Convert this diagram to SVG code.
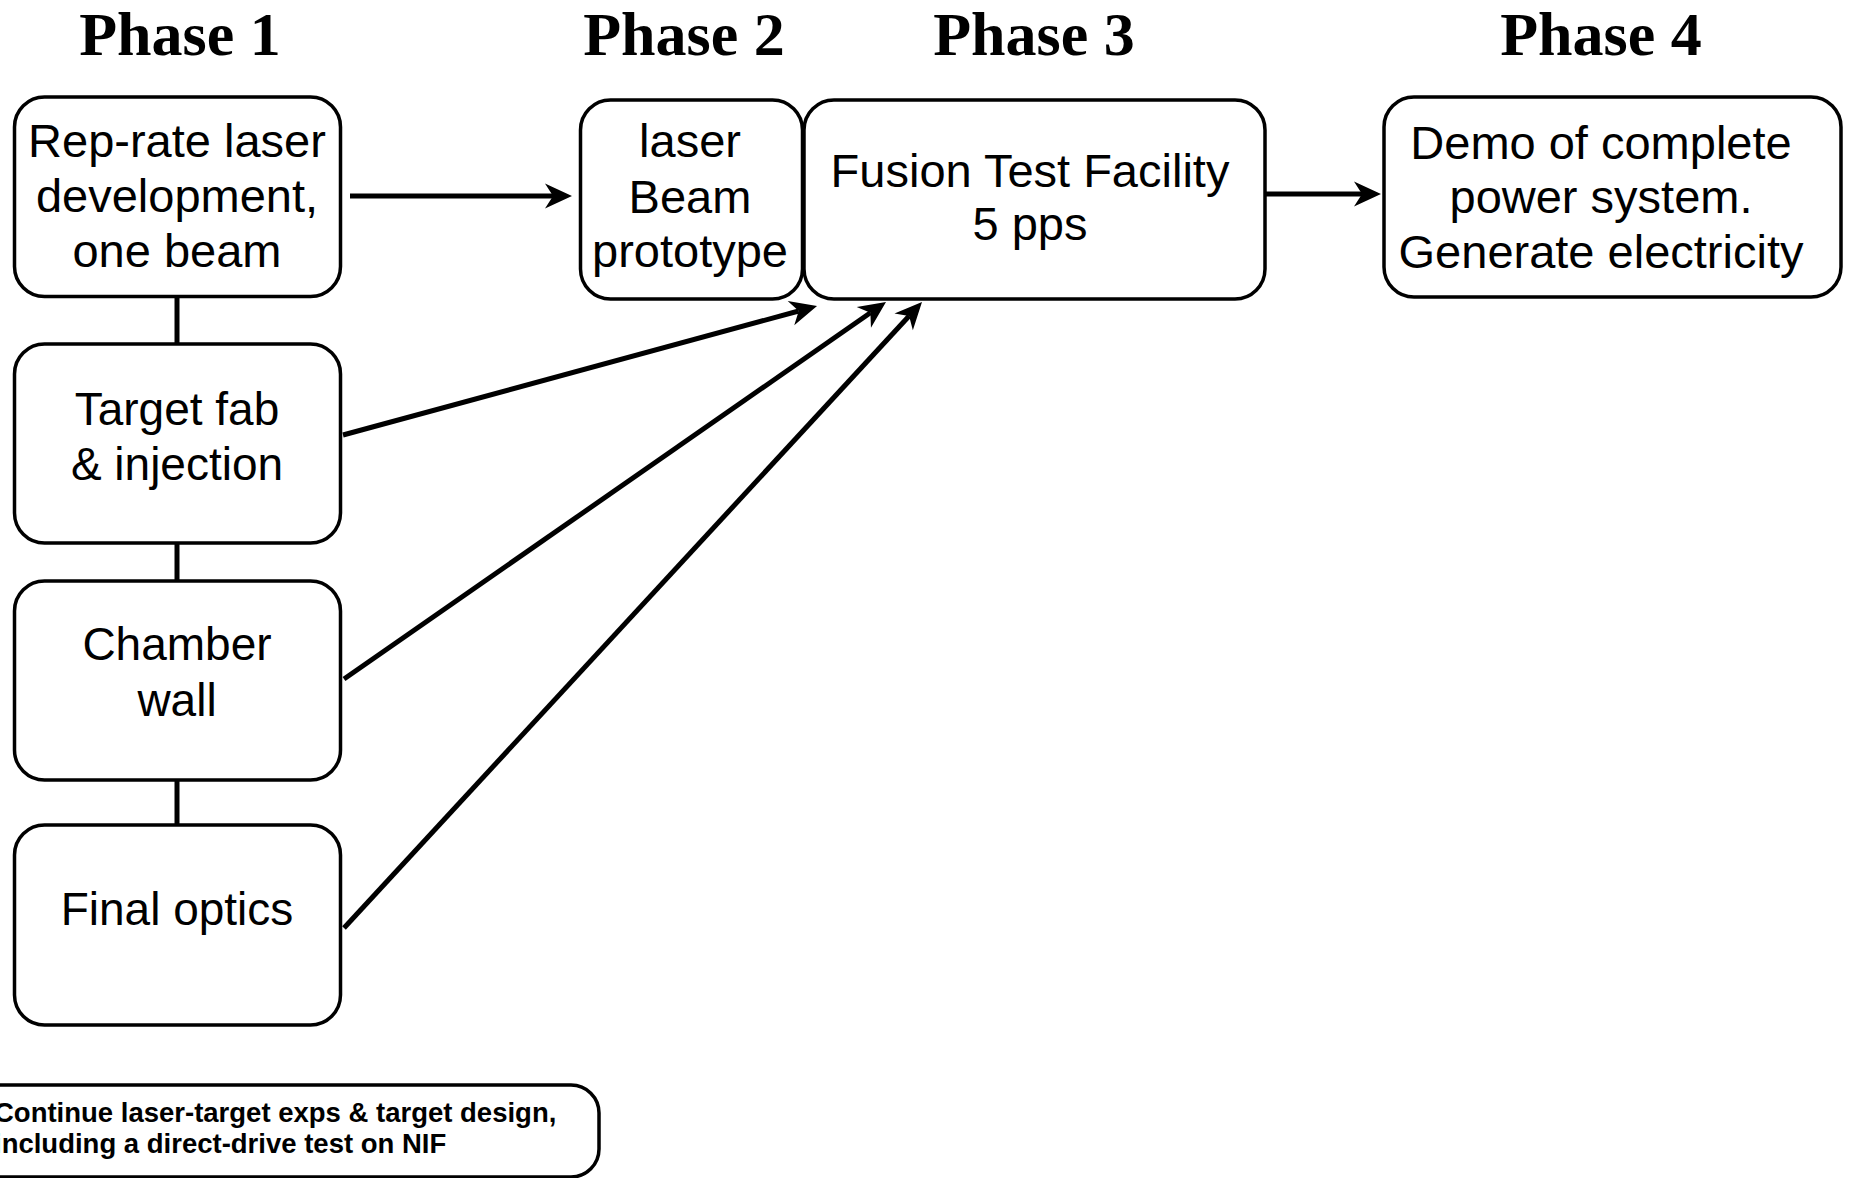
<svg xmlns="http://www.w3.org/2000/svg" width="1850" height="1178" viewBox="0 0 1850 1178">
<style>
.box{fill:#fff;stroke:#000;stroke-width:3.5}
.t{font-family:"Liberation Sans",Arial,sans-serif;font-size:47px;fill:#000;text-anchor:middle}
.tl{font-family:"Liberation Sans",Arial,sans-serif;font-size:46px;fill:#000;text-anchor:middle}
.ph{font-family:"Liberation Serif","Times New Roman",serif;font-weight:bold;font-size:62px;fill:#000;text-anchor:middle}
.note{font-family:"Liberation Sans",Arial,sans-serif;font-weight:bold;font-size:27.5px;fill:#000}
.c{stroke:#000;stroke-width:5;fill:none}
.a{stroke:#000;stroke-width:5;fill:none;marker-end:url(#arr)}
</style>
<defs>
<marker id="arr" markerUnits="userSpaceOnUse" viewBox="-10 -13 30 26" refX="0" refY="0" markerWidth="30" markerHeight="26" orient="auto">
<path d="M19,0 L-8,-12.5 L0,0 L-8,12.5 Z" fill="#000"/>
</marker>
</defs>
<rect width="1850" height="1178" fill="#fff"/>
<g id="titles">
<text class="ph" x="180" y="55">Phase 1</text>
<text class="ph" x="684" y="55">Phase 2</text>
<text class="ph" x="1034" y="55">Phase 3</text>
<text class="ph" x="1601" y="55">Phase 4</text>
</g>
<g id="connectors">
<line class="c" x1="177" y1="296" x2="177" y2="344"/>
<line class="c" x1="177" y1="537" x2="177" y2="581"/>
<line class="c" x1="177" y1="780" x2="177" y2="825"/>
<line class="a" x1="350" y1="196" x2="553" y2="196"/>
<line class="a" x1="1265" y1="194" x2="1362" y2="194"/>
<line class="a" x1="343" y1="435" x2="798.7" y2="311"/>
<line class="a" x1="344" y1="679" x2="870.4" y2="312.8"/>
<line class="a" x1="344" y1="928" x2="909.1" y2="316"/>
</g>
<g id="n-replaser">
<rect class="box" x="14.5" y="97" width="326" height="199.5" rx="30"/>
<text class="t" x="177" y="157">Rep-rate laser</text>
<text class="t" x="177" y="212">development,</text>
<text class="t" x="177" y="267">one beam</text>
</g>
<g id="n-target">
<rect class="box" x="14.5" y="344" width="326" height="199" rx="30"/>
<text class="tl" x="177" y="425">Target fab</text>
<text class="tl" x="177" y="480">&amp; injection</text>
</g>
<g id="n-chamber">
<rect class="box" x="14.5" y="581" width="326" height="199" rx="30"/>
<text class="tl" x="177" y="660">Chamber</text>
<text class="tl" x="177" y="716">wall</text>
</g>
<g id="n-optics">
<rect class="box" x="14.5" y="825" width="326" height="200" rx="30"/>
<text class="tl" x="177" y="925">Final optics</text>
</g>
<g id="n-beam">
<rect class="box" x="580.5" y="100" width="222" height="199" rx="30"/>
<text class="t" x="690" y="157">laser</text>
<text class="t" x="690" y="213">Beam</text>
<text class="t" x="690" y="267">prototype</text>
</g>
<g id="n-fusion">
<rect class="box" x="804" y="100" width="461" height="199" rx="30"/>
<text class="t" x="1030" y="187">Fusion Test Facility</text>
<text class="t" x="1030" y="240">5 pps</text>
</g>
<g id="n-demo">
<rect class="box" x="1384" y="97" width="457" height="200" rx="30"/>
<text class="t" x="1601" y="159">Demo of complete</text>
<text class="t" x="1601" y="213">power system.</text>
<text class="t" x="1601" y="268">Generate electricity</text>
</g>
<g id="n-note">
<rect class="box" x="-40" y="1085" width="639" height="92" rx="28"/>
<text class="note" x="-6" y="1122">Continue laser-target exps &amp; target design,</text>
<text class="note" x="-6" y="1153">including a direct-drive test on NIF</text>
</g>
</svg>
